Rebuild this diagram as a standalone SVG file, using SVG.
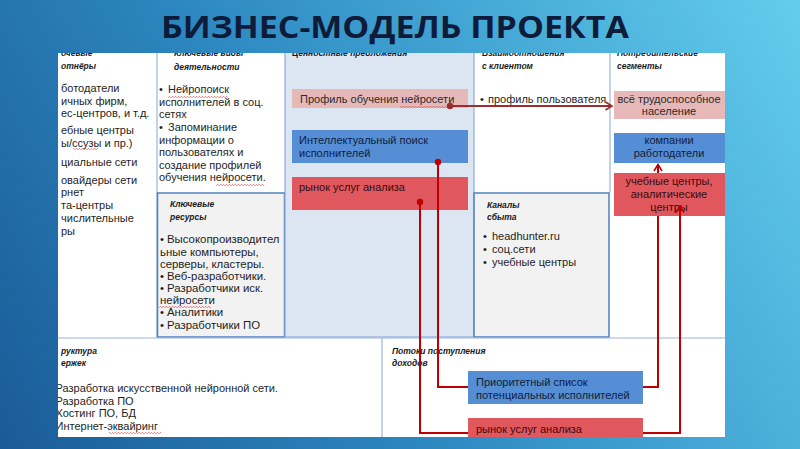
<svg xmlns="http://www.w3.org/2000/svg" width="800" height="449" viewBox="0 0 800 449">
<defs>
  <linearGradient id="bg" x1="0" y1="449" x2="800" y2="0" gradientUnits="userSpaceOnUse">
    <stop offset="0" stop-color="#1a5b97"/>
    <stop offset="0.45" stop-color="#2f8cc4"/>
    <stop offset="1" stop-color="#63cdec"/>
  </linearGradient>
  <clipPath id="panel"><rect x="58" y="53" width="667" height="384"/></clipPath>
  <marker id="arrDark" markerUnits="userSpaceOnUse" markerWidth="10" markerHeight="10" refX="8" refY="5" orient="auto">
    <path d="M1.5,1 L8,5 L1.5,9" fill="none" stroke="#9b2d30" stroke-width="1.6"/>
  </marker>
  <marker id="arrRed" markerUnits="userSpaceOnUse" markerWidth="10" markerHeight="10" refX="8" refY="5" orient="auto">
    <path d="M1.5,1 L8,5 L1.5,9" fill="none" stroke="#c00000" stroke-width="1.6"/>
  </marker>
  <pattern id="sq" width="3" height="2" patternUnits="userSpaceOnUse">
    <path d="M0,1.8 L1.5,0.3 L3,1.8" fill="none" stroke="#e0393e" stroke-width="0.7"/>
  </pattern>
</defs>
<style>
  .title{font-family:"Open Sans","DejaVu Sans",sans-serif;font-weight:700;font-size:30px;fill:#0e1c3a}
  .hd{font-family:"Liberation Sans",Arial,sans-serif;font-style:italic;font-weight:700;font-size:8.5px;fill:#1a1a1a}
  .tx{font-family:"Liberation Sans",Arial,sans-serif;font-size:11px;fill:#1e1e1e}
  .tr{font-family:"Liberation Sans",Arial,sans-serif;font-size:11.4px;fill:#1e1e1e}
  .bx{font-family:"Liberation Sans",Arial,sans-serif;font-size:11px}
  .line{stroke:#9db5d8;stroke-width:1.2;fill:none}
  .frame{fill:#f2f2f2;stroke:#4f81bd;stroke-width:1.5}
  .pink{fill:#e6b9b8}
  .blue{fill:#558ed5}
  .red{fill:#e0575e}
  .tpink{fill:#2a2a2a}
  .tblue{fill:#101d3c}
  .tred{fill:#3a0c0e}
  .conn{fill:none;stroke:#c00000;stroke-width:2}
  .connD{fill:none;stroke:#9b2d30;stroke-width:1.8}
  .sq{fill:url(#sq)}
</style>

<rect x="0" y="0" width="800" height="449" fill="url(#bg)"/>
<text class="title" x="395" y="38" text-anchor="middle" textLength="468" lengthAdjust="spacingAndGlyphs">БИЗНЕС-МОДЕЛЬ ПРОЕКТА</text>

<g clip-path="url(#panel)">
  <rect x="58" y="53" width="667" height="384" fill="#ffffff"/>

  <g id="partners">
    <text class="hd" x="61" y="55.5">очевые</text>
    <text class="hd" x="61" y="69">отнёры</text>
    <text class="tx" x="61" y="92">ботодатели</text>
    <text class="tx" x="61" y="105">ичных фирм,</text>
    <text class="tx" x="61" y="117">ес-центров, и т.д.</text>
    <text class="tx" x="61" y="134">ебные центры</text>
    <text class="tx" x="61" y="147">ы/ссузы и пр.)</text>
    <rect class="sq" x="73" y="148" width="25" height="2"/>
    <text class="tx" x="61" y="166">циальные сети</text>
    <text class="tx" x="61" y="184">овайдеры сети</text>
    <text class="tx" x="61" y="196">рнет</text>
    <text class="tx" x="61" y="209">та-центры</text>
    <text class="tx" x="61" y="222">числительные</text>
    <text class="tx" x="61" y="235">ры</text>
    <line class="line" x1="157" y1="53" x2="157" y2="338"/>
  </g>

  <g id="activities">
    <text class="hd" x="174" y="55.5">Ключевые виды</text>
    <text class="hd" x="174" y="69.5">деятельности</text>
    <text class="tx" y="93"><tspan x="159">•</tspan><tspan x="168">Нейропоиск</tspan></text>
    <rect class="sq" x="168" y="96" width="60" height="2"/>
    <text class="tx" x="159" y="105.5">исполнителей в соц.</text>
    <text class="tx" x="159" y="118">сетях</text>
    <text class="tx" y="131"><tspan x="159">•</tspan><tspan x="168">Запоминание</tspan></text>
    <text class="tx" x="159" y="143.5">информации о</text>
    <text class="tx" x="159" y="156">пользователях и</text>
    <text class="tx" x="159" y="168.5">создание профилей</text>
    <text class="tx" x="159" y="181">обучения нейросети.</text>
    <rect class="sq" x="216" y="184" width="48" height="2"/>
  </g>

  <g id="resources">
    <rect class="frame" x="157.5" y="193" width="127" height="144"/>
    <text class="hd" x="170" y="206.5">Ключевые</text>
    <text class="hd" x="170" y="219.5">ресурсы</text>
    <text class="tr" y="243"><tspan x="160">•</tspan><tspan x="167">Высокопроизводител</tspan></text>
    <text class="tr" x="160" y="255.5">ьные компьютеры,</text>
    <text class="tr" x="160" y="267.5">серверы, кластеры.</text>
    <text class="tr" y="279.5"><tspan x="160">•</tspan><tspan x="167">Веб-разработчики.</tspan></text>
    <text class="tr" y="292"><tspan x="160">•</tspan><tspan x="167">Разработчики иск.</tspan></text>
    <text class="tr" x="160" y="304">нейросети</text>
    <rect class="sq" x="159" y="306" width="52" height="2"/>
    <text class="tr" y="316"><tspan x="160">•</tspan><tspan x="167">Аналитики</tspan></text>
    <text class="tr" y="328.5"><tspan x="160">•</tspan><tspan x="167">Разработчики ПО</tspan></text>
  </g>

  <g id="value">
    <rect x="285" y="50" width="189" height="287" fill="#dce6f2" stroke="#8eaadb" stroke-width="1.2"/>
    <text class="hd" x="292" y="55.5">Ценностные предложения</text>
  </g>
  <g id="vp-profile">
    <rect class="pink" x="292" y="89" width="176" height="19"/>
    <text class="bx tpink" x="300" y="103">Профиль обучения нейросети</text>
    <rect class="sq" x="400" y="106" width="50" height="2"/>
  </g>
  <g id="vp-search">
    <rect class="blue" x="292" y="130" width="176" height="33"/>
    <text class="bx tblue" x="299" y="144">Интеллектуальный поиск</text>
    <text class="bx tblue" x="299" y="157">исполнителей</text>
  </g>
  <g id="vp-market">
    <rect class="red" x="292" y="177" width="176" height="33"/>
    <text class="bx tred" x="299" y="191">рынок услуг анализа</text>
  </g>

  <g id="relationships">
    <text class="hd" x="482" y="55.5">Взаимоотношения</text>
    <text class="hd" x="482" y="69">с клиентом</text>
    <text class="tx" y="103"><tspan x="480">•</tspan><tspan x="488">профиль пользователя</tspan></text>
  </g>

  <g id="channels">
    <rect class="frame" x="474" y="193" width="135" height="144"/>
    <text class="hd" x="487" y="208">Каналы</text>
    <text class="hd" x="487" y="220">сбыта</text>
    <text class="tx" y="240"><tspan x="483">•</tspan><tspan x="492">headhunter.ru</tspan></text>
    <text class="tx" y="253"><tspan x="483">•</tspan><tspan x="492">соц.сети</tspan></text>
    <text class="tx" y="266"><tspan x="483">•</tspan><tspan x="492">учебные центры</tspan></text>
  </g>

  <g id="segments">
    <line class="line" x1="610" y1="53" x2="610" y2="193"/>
    <text class="hd" x="617" y="55.5">Потребительские</text>
    <text class="hd" x="617" y="69">сегменты</text>
  </g>
  <g id="seg-all">
    <rect class="pink" x="614" y="91" width="111" height="28"/>
    <text class="bx tpink" x="669" y="102.5" text-anchor="middle">всё трудоспособное</text>
    <text class="bx tpink" x="669" y="115" text-anchor="middle">население</text>
  </g>
  <g id="seg-employers">
    <rect class="blue" x="614" y="133" width="111" height="30"/>
    <text class="bx tblue" x="669" y="144" text-anchor="middle">компании</text>
    <text class="bx tblue" x="669" y="157" text-anchor="middle">работодатели</text>
  </g>
  <g id="seg-centers">
    <rect class="red" x="614" y="173" width="111" height="43"/>
    <text class="bx tred" x="669" y="185" text-anchor="middle">учебные центры,</text>
    <text class="bx tred" x="669" y="198" text-anchor="middle">аналитические</text>
    <text class="bx tred" x="669" y="210.5" text-anchor="middle">центры</text>
  </g>

  <g id="costs">
    <line class="line" x1="58" y1="338" x2="725" y2="338"/>
    <text class="hd" x="61" y="354">руктура</text>
    <text class="hd" x="61" y="366">ержек</text>
    <text class="tx" x="55.5" y="392">Разработка искусственной нейронной сети.</text>
    <text class="tx" x="55.5" y="405">Разработка ПО</text>
    <text class="tx" x="55.5" y="417">Хостинг ПО, БД</text>
    <text class="tx" x="55.5" y="430">Интернет-эквайринг</text>
    <rect class="sq" x="109" y="432" width="52" height="2"/>
  </g>

  <g id="revenue">
    <line class="line" x1="382" y1="338" x2="382" y2="437"/>
    <text class="hd" x="392" y="354">Потоки поступления</text>
    <text class="hd" x="392" y="366">доходов</text>
  </g>
  <g id="rev-list">
    <rect class="blue" x="468" y="371" width="175" height="33"/>
    <text class="bx tblue" x="476" y="386">Приоритетный список</text>
    <text class="bx tblue" x="476" y="399">потенциальных исполнителей</text>
  </g>
  <g id="rev-market">
    <rect class="red" x="468" y="418" width="175" height="25"/>
    <text class="bx tred" x="476" y="433">рынок услуг анализа</text>
  </g>

  <g id="connectors">
    <path class="connD" d="M450,106 H612" marker-end="url(#arrDark)"/>
    <circle cx="450" cy="106" r="3.2" fill="#9b2d30"/>
    <path class="conn" d="M438,162 V387 H468"/>
    <path class="conn" d="M643,387 H658 V216"/>
    <path class="conn" d="M658,173 V164.5" marker-end="url(#arrRed)"/>
    <circle cx="438" cy="162" r="3.2" fill="#c00000"/>
    <path class="conn" d="M420,202 V433 H468"/>
    <path class="conn" d="M643,433 H680 V206" marker-end="url(#arrRed)"/>
    <circle cx="420" cy="202" r="3.2" fill="#c00000"/>
  </g>
</g>
</svg>
